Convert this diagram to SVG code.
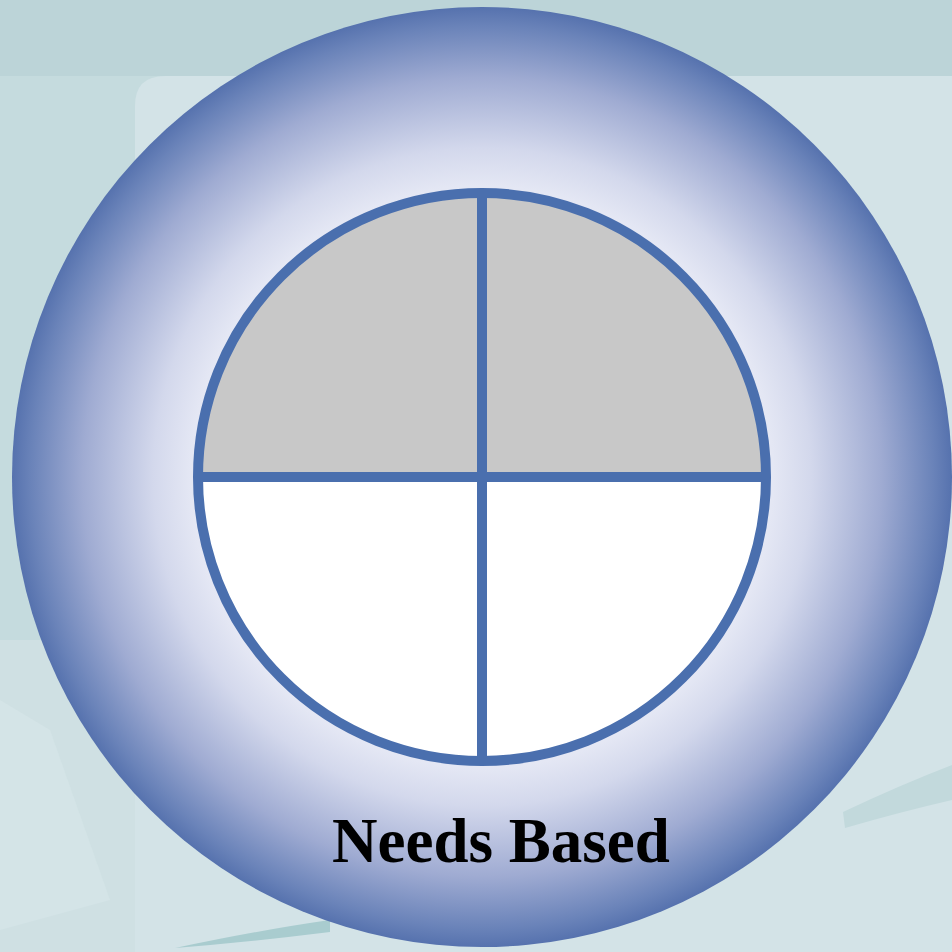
<svg xmlns="http://www.w3.org/2000/svg" width="952" height="952" viewBox="0 0 952 952">
<defs>
<radialGradient id="ring" cx="482" cy="477" r="470" gradientUnits="userSpaceOnUse">
<stop offset="0" stop-color="#eef0f9"/>
<stop offset="0.62" stop-color="#e4e7f4"/>
<stop offset="0.7" stop-color="#d3d8ec"/>
<stop offset="0.85" stop-color="#9fabd2"/>
<stop offset="0.96" stop-color="#6a83b9"/>
<stop offset="1" stop-color="#5672ae"/>
</radialGradient>
<style>
.div{stroke:#4a6fae;stroke-width:10;fill:none}
.lbl{font-family:"Liberation Serif","Times New Roman",serif;font-weight:bold;font-size:63px;fill:#000}
</style>
</defs>
<g id="background">
<rect x="0" y="0" width="952" height="952" fill="#c5dbde"/>
<rect x="0" y="0" width="952" height="76" fill="#bcd4d8"/>
<path d="M135 106 Q135 76 165 76 L952 76 L952 952 L135 952 Z" fill="#d3e3e7"/>
<path d="M0 640 L135 640 L135 952 L0 952 Z" fill="#cfe0e3"/>
<path d="M0 700 L50 730 L110 900 L0 930 Z" fill="#d4e4e7"/>
<path d="M175 948 Q260 930 330 920 L330 932 Q250 942 175 948 Z" fill="#a9cccf"/>
<path d="M843 812 Q900 785 952 765 L952 800 Q900 812 845 828 Z" fill="#c2d9dc"/>
</g>
<g id="outer-ring">
<circle cx="482" cy="477" r="470" fill="url(#ring)"/>
</g>
<g id="quadrants">
<path id="q-top-left" d="M482 477 L198 477 A284 284 0 0 1 482 193 Z" fill="#c8c8c8"/>
<path id="q-top-right" d="M482 477 L482 193 A284 284 0 0 1 766 477 Z" fill="#c8c8c8"/>
<path id="q-bottom-right" d="M482 477 L766 477 A284 284 0 0 1 482 761 Z" fill="#ffffff"/>
<path id="q-bottom-left" d="M482 477 L482 761 A284 284 0 0 1 198 477 Z" fill="#ffffff"/>
</g>
<g id="connectors">
<circle class="div" cx="482" cy="477" r="284"/>
<line class="div" x1="482" y1="193" x2="482" y2="761"/>
<line class="div" x1="198" y1="477" x2="766" y2="477"/>
</g>
<g id="label">
<text class="lbl" x="501" y="862" text-anchor="middle">Needs Based</text>
</g>
</svg>
